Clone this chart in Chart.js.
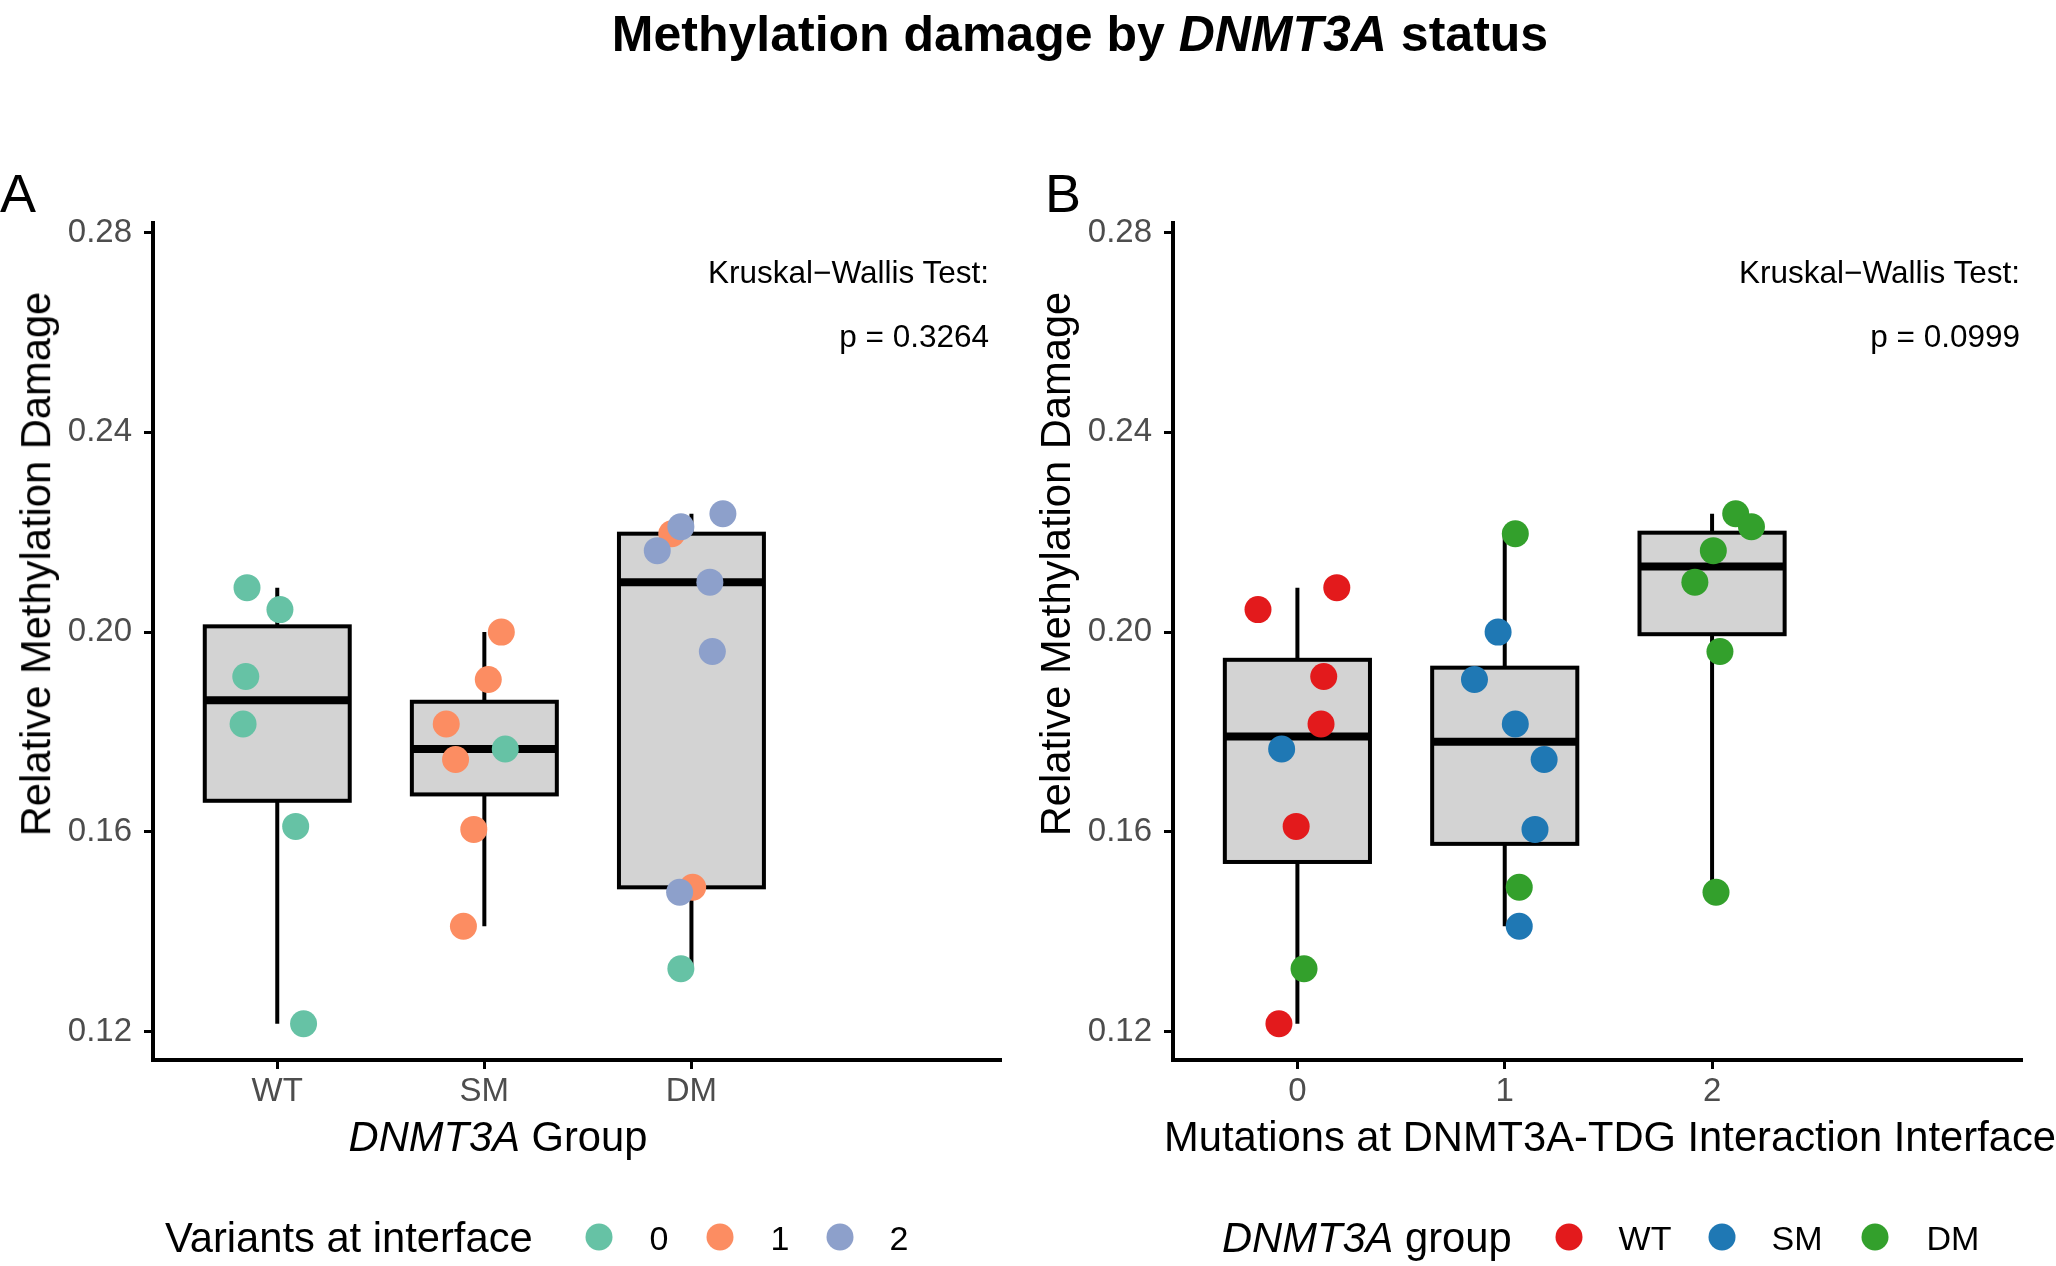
<!DOCTYPE html>
<html>
<head>
<meta charset="utf-8">
<script src="https://cdn.jsdelivr.net/npm/chart.js@4.4.1/dist/chart.umd.min.js"></script>
<style>
  html, body { margin: 0; padding: 0; background: #fff; }
  #page { position: relative; width: 2056px; height: 1266px; overflow: hidden;
          font-family: 'Liberation Sans', Arial, Helvetica, sans-serif; color: #000; }
  .txt { position: absolute; line-height: 1; white-space: nowrap; transform: translate(-50%, -50%); }
  .right { transform: translate(-100%, -50%); }
  .left { transform: translate(0, -50%); }
  .rot { transform: translate(-50%, -50%) rotate(-90deg); }
  .dot { position: absolute; width: 27px; height: 27px; border-radius: 50%; transform: translate(-50%, -50%); }
  canvas { position: absolute; top: 0; }
</style>
</head>
<body>
<div id="page">
  <canvas id="chartA" width="1030" height="1266" style="left:0px"></canvas>
  <canvas id="chartB" width="1026" height="1266" style="left:1030px"></canvas>

  <div class="txt" style="left:1080px; top:34px; font-size:50px; font-weight:bold;">Methylation damage by <i>DNMT3A</i> status</div>

  <div class="txt" style="left:18px; top:193px; font-size:54px;">A</div>
  <div class="txt" style="left:1063px; top:193px; font-size:54px;">B</div>

  <div class="txt rot" style="left:36px; top:564px; font-size:41.7px;">Relative Methylation Damage</div>
  <div class="txt rot" style="left:1056px; top:564px; font-size:41.7px;">Relative Methylation Damage</div>

  <div class="txt right" style="left:989px; top:273px; font-size:31.5px;">Kruskal&minus;Wallis Test:</div>
  <div class="txt right" style="left:989px; top:337px; font-size:31.5px;">p = 0.3264</div>
  <div class="txt right" style="left:2020px; top:273px; font-size:31.5px;">Kruskal&minus;Wallis Test:</div>
  <div class="txt right" style="left:2020px; top:337px; font-size:31.5px;">p = 0.0999</div>

  <div class="txt" style="left:498px; top:1137px; font-size:41.7px;"><i>DNMT3A</i> Group</div>
  <div class="txt" style="left:1610px; top:1137px; font-size:41.7px;">Mutations at DNMT3A-TDG Interaction Interface</div>

  <div id="legendA"></div>
  <div id="legendB"></div>
</div>

<script>
// one entry per sample, same samples in both panels
const sampleValue    = [0.2089, 0.2045, 0.1911, 0.1816, 0.1611, 0.1216,
                        0.2000, 0.1905, 0.1816, 0.1745, 0.1605, 0.1411, 0.1766,
                        0.2237, 0.2211, 0.2163, 0.2100, 0.1961, 0.1479, 0.2197, 0.1489, 0.1326];
const sampleGroup    = ['WT', 'WT', 'WT', 'WT', 'WT', 'WT',
                        'SM', 'SM', 'SM', 'SM', 'SM', 'SM', 'SM',
                        'DM', 'DM', 'DM', 'DM', 'DM', 'DM', 'DM', 'DM', 'DM'];
const sampleVariants = [0, 0, 0, 0, 0, 0,
                        1, 1, 1, 1, 1, 1, 0,
                        2, 2, 2, 2, 2, 2, 1, 1, 0];
// horizontal jitter
const jitterA = [-0.146, 0.013, -0.152, -0.165, 0.089, 0.127,
                 0.082, 0.019, -0.184, -0.139, -0.051, -0.101, 0.101,
                 0.152, -0.051, -0.165, 0.089, 0.101, -0.057, -0.095, 0.006, -0.051];
const jitterB = [0.19, -0.19, 0.127, 0.114, -0.006, -0.089,
                 -0.032, -0.146, 0.051, 0.19, 0.146, 0.07, -0.076,
                 0.114, 0.19, 0.006, -0.083, 0.038, 0.019, 0.051, 0.07, 0.032];

const groupLabels = ['WT', 'SM', 'DM'];
const groupPos = [1, 2, 3];
const variantLabels = ['0', '1', '2'];
const variantPos = [0, 1, 2];
const yTicks = [0.12, 0.16, 0.20, 0.24, 0.28];

const variantColors = ['#66C2A5', '#FC8D62', '#8DA0CB'];
const groupColors = ['#E31A1C', '#1F78B4', '#33A02C'];

const FONT = "'Liberation Sans', Arial, Helvetica, sans-serif";

function quantile(sorted, p) {
    const h = (sorted.length - 1) * p;
    const lo = Math.floor(h);
    const hi = Math.min(lo + 1, sorted.length - 1);
    return sorted[lo] + (h - lo) * (sorted[hi] - sorted[lo]);
}

function boxStats(vals, pos) {
    const s = vals.slice().sort((a, b) => a - b);
    return { pos: pos, min: s[0], q1: quantile(s, 0.25), med: quantile(s, 0.5), q3: quantile(s, 0.75), max: s[s.length - 1] };
}

const boxplotPlugin = {
    id: 'boxplot',
    beforeDatasetsDraw(chart, args, opts) {
        const { ctx, scales: { x, y } } = chart;
        ctx.save();
        ctx.lineCap = 'butt';
        opts.boxes.forEach(b => {
            const xc = x.getPixelForValue(b.pos);
            const half = x.getPixelForValue(b.pos + opts.width / 2) - xc;
            // whisker
            ctx.strokeStyle = '#000';
            ctx.lineWidth = 4;
            ctx.beginPath();
            ctx.moveTo(xc, y.getPixelForValue(b.min));
            ctx.lineTo(xc, y.getPixelForValue(b.max));
            ctx.stroke();
            // box
            const top = y.getPixelForValue(b.q3);
            const bot = y.getPixelForValue(b.q1);
            ctx.fillStyle = '#D3D3D3';
            ctx.fillRect(xc - half, top, half * 2, bot - top);
            ctx.lineWidth = 4;
            ctx.strokeRect(xc - half, top, half * 2, bot - top);
            // median
            ctx.lineWidth = 8;
            ctx.beginPath();
            ctx.moveTo(xc - half, y.getPixelForValue(b.med));
            ctx.lineTo(xc + half, y.getPixelForValue(b.med));
            ctx.stroke();
        });
        ctx.restore();
    }
};

function makeChart(canvasId, cfg) {
    const axisGrid = { display: true, drawOnChartArea: false, drawTicks: true, tickLength: 9, color: '#000', lineWidth: 3 };
    const axisBorder = { display: true, color: '#000', width: 4 };
    return new Chart(document.getElementById(canvasId), {
        type: 'scatter',
        data: { datasets: cfg.datasets },
        plugins: [boxplotPlugin],
        options: {
            responsive: false,
            animation: false,
            devicePixelRatio: 1,
            layout: { padding: { top: 223, left: 0, right: cfg.padRight, bottom: 146 } },
            plugins: {
                legend: { display: false },
                tooltip: { enabled: false },
                boxplot: { boxes: cfg.boxes, width: 0.7 }
            },
            scales: {
                x: {
                    type: 'linear',
                    min: cfg.pos[0] - 0.6,
                    max: cfg.pos[0] + 3.49,
                    afterBuildTicks: s => { s.ticks = cfg.pos.map(v => ({ value: v })); },
                    afterFit: s => { s.height = 60; },
                    ticks: {
                        autoSkip: false, maxRotation: 0, padding: 3,
                        color: '#4D4D4D', font: { family: FONT, size: 33 },
                        callback: (v, i) => cfg.labels[i]
                    },
                    grid: axisGrid,
                    border: axisBorder
                },
                y: {
                    min: 0.11433,
                    max: 0.2819,
                    afterBuildTicks: s => { s.ticks = yTicks.map(v => ({ value: v })); },
                    afterFit: s => { s.width = cfg.yWidth; },
                    ticks: {
                        padding: 12,
                        color: '#4D4D4D', font: { family: FONT, size: 33 },
                        callback: v => v.toFixed(2)
                    },
                    grid: axisGrid,
                    border: axisBorder
                }
            }
        }
    });
}

// panel A: x = DNMT3A group, colour = variants at interface
const datasetsA = variantLabels.map((lab, k) => ({
    label: lab,
    order: 2 - k,
    data: sampleValue.map((v, i) => sampleVariants[i] === k
        ? { x: groupPos[groupLabels.indexOf(sampleGroup[i])] + jitterA[i], y: v } : null).filter(p => p),
    backgroundColor: variantColors[k],
    borderWidth: 0,
    pointRadius: 13.5,
    pointHoverRadius: 13.5
}));
const boxesA = groupLabels.map((g, k) =>
    boxStats(sampleValue.filter((v, i) => sampleGroup[i] === g), groupPos[k]));

// panel B: x = mutations at interface, colour = DNMT3A group
const datasetsB = groupLabels.map((g, k) => ({
    label: g,
    order: 2 - k,
    data: sampleValue.map((v, i) => sampleGroup[i] === g
        ? { x: sampleVariants[i] + jitterB[i], y: v } : null).filter(p => p),
    backgroundColor: groupColors[k],
    borderWidth: 0,
    pointRadius: 13.5,
    pointHoverRadius: 13.5
}));
const boxesB = variantPos.map(p =>
    boxStats(sampleValue.filter((v, i) => sampleVariants[i] === p), p));

makeChart('chartA', { datasets: datasetsA, boxes: boxesA, pos: groupPos, labels: groupLabels, yWidth: 153, padRight: 30 });
makeChart('chartB', { datasets: datasetsB, boxes: boxesB, pos: variantPos, labels: variantLabels, yWidth: 143, padRight: 35 });

// legends
function buildLegend(el, titleHtml, titleX, dotX, labelX, labels, colors) {
    const y = 1238;
    let html = `<div class="txt left" style="left:${titleX}px; top:${y}px; font-size:41.7px;">${titleHtml}</div>`;
    labels.forEach((lab, k) => {
        html += `<div class="dot" style="left:${dotX[k]}px; top:${y - 1}px; background:${colors[k]}"></div>`;
        html += `<div class="txt" style="left:${labelX[k]}px; top:${y}px; font-size:34px;">${lab}</div>`;
    });
    el.innerHTML = html;
}
buildLegend(document.getElementById('legendA'), 'Variants at interface', 165,
    [599, 720, 840], [659, 780, 899], variantLabels, variantColors);
buildLegend(document.getElementById('legendB'), '<i>DNMT3A</i> group', 1222,
    [1569, 1722, 1875], [1645, 1797, 1953], groupLabels, groupColors);
</script>
</body>
</html>
